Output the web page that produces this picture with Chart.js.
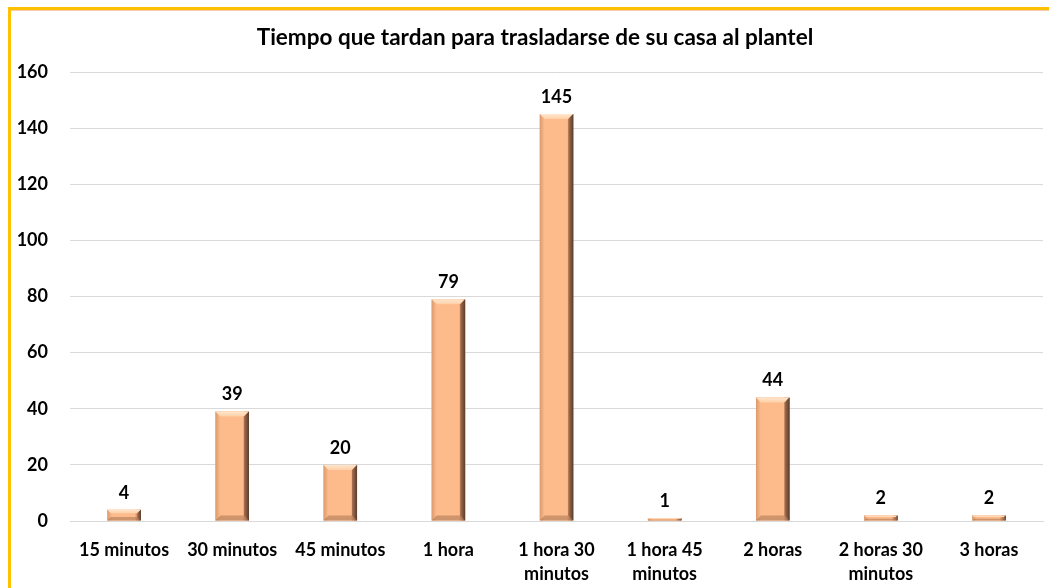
<!DOCTYPE html>
<html>
<head>
<meta charset="utf-8">
<script src="https://cdn.jsdelivr.net/npm/chart.js@4/dist/chart.umd.min.js"></script>
<style>
  html, body { margin: 0; padding: 0; background: #fff; overflow: hidden; }
  #wrap { position: relative; width: 1049px; height: 588px; }
  #frame {
    position: absolute; left: 8px; top: 7px; width: 1100px; height: 700px;
    border-top: 3px solid #FFC000; border-left: 3px solid #FFC000;
    box-shadow: inset 0 1px 0 #F8CBAD;
    pointer-events: none;
  }
  canvas { position: absolute; left: 0; top: 0; }
</style>
</head>
<body>
<div id="wrap">
  <canvas id="chart" width="1049" height="588"></canvas>
  <div id="frame"></div>
</div>
<script>
const TITLE = "Tiempo que tardan para trasladarse de su casa al plantel";

const categories = [
  "15 minutos",
  "30 minutos",
  "45 minutos",
  "1 hora",
  ["1 hora 30", "minutos"],
  ["1 hora 45", "minutos"],
  "2 horas",
  ["2 horas 30", "minutos"],
  "3 horas",
];

const values = [4, 39, 20, 79, 145, 1, 44, 2, 2];

const yTicks = [0, 20, 40, 60, 80, 100, 120, 140, 160];

const FONT = "Lato, 'Open Sans', sans-serif";

// titulo centrado en todo el recuadro
const titlePlugin = {
  id: "titlePlugin",
  afterDraw(chart) {
    const ctx = chart.ctx;
    ctx.save();
    ctx.font = "bold 22.5px " + FONT;
    ctx.fillStyle = "#000";
    ctx.textAlign = "center";
    ctx.textBaseline = "middle";
    ctx.fillText(TITLE, 535, 38);
    ctx.restore();
  },
};

// relieve de las barras (efecto bisel)
const bevelPlugin = {
  id: "bevelPlugin",
  afterDatasetsDraw(chart) {
    const ctx = chart.ctx;
    const meta = chart.getDatasetMeta(0);
    meta.data.forEach((bar) => {
      const l = bar.x - bar.width / 2;
      const r = bar.x + bar.width / 2;
      const t = Math.min(bar.y, bar.base);
      const b = Math.max(bar.y, bar.base);
      const h = b - t;
      const bv = Math.min(5, h / 3);

      ctx.save();
      // cara principal
      const g = ctx.createLinearGradient(l, 0, r, 0);
      g.addColorStop(0, "#D99A6E");
      g.addColorStop(0.14, "#FDBA8A");
      g.addColorStop(0.82, "#FDBA8A");
      g.addColorStop(0.9, "#C48660");
      g.addColorStop(1, "#6A4832");
      ctx.fillStyle = g;
      ctx.fillRect(l, t, r - l, h);

      // bisel superior
      ctx.beginPath();
      ctx.moveTo(l, t);
      ctx.lineTo(r, t);
      ctx.lineTo(r - bv, t + bv);
      ctx.lineTo(l + bv, t + bv);
      ctx.closePath();
      const gt = ctx.createLinearGradient(0, t, 0, t + bv);
      gt.addColorStop(0, "#FFE6CC");
      gt.addColorStop(1, "#FFD0A8");
      ctx.fillStyle = gt;
      ctx.fill();

      // bisel inferior
      ctx.beginPath();
      ctx.moveTo(l, b);
      ctx.lineTo(r, b);
      ctx.lineTo(r - bv, b - bv);
      ctx.lineTo(l + bv, b - bv);
      ctx.closePath();
      ctx.fillStyle = "rgba(160, 110, 78, 0.5)";
      ctx.fill();

      // bisel derecho
      ctx.beginPath();
      ctx.moveTo(r, t);
      ctx.lineTo(r, b);
      ctx.lineTo(r - bv, b - bv);
      ctx.lineTo(r - bv, t + bv);
      ctx.closePath();
      const gr = ctx.createLinearGradient(r - bv, 0, r, 0);
      gr.addColorStop(0, "#A87252");
      gr.addColorStop(1, "#5A3C2A");
      ctx.fillStyle = gr;
      ctx.fill();
      ctx.restore();
    });
  },
};

// etiquetas de valores encima de las barras
const valueLabelPlugin = {
  id: "valueLabelPlugin",
  afterDatasetsDraw(chart) {
    const ctx = chart.ctx;
    const meta = chart.getDatasetMeta(0);
    ctx.save();
    ctx.font = "bold 18px " + FONT;
    ctx.fillStyle = "#000";
    ctx.textAlign = "center";
    ctx.textBaseline = "bottom";
    meta.data.forEach((bar, i) => {
      ctx.fillText(String(values[i]), bar.x, bar.y - 8);
    });
    ctx.restore();
  },
};

const ctx = document.getElementById("chart").getContext("2d");

new Chart(ctx, {
  type: "bar",
  data: {
    labels: categories,
    datasets: [
      {
        data: values,
        backgroundColor: "#FDBA8A",
        borderWidth: 0,
        categoryPercentage: 1,
        barPercentage: 0.31,
      },
    ],
  },
  plugins: [bevelPlugin, valueLabelPlugin, titlePlugin],
  options: {
    responsive: false,
    animation: false,
    layout: { padding: { left: 0, right: 6, top: 72, bottom: 0 } },
    scales: {
      y: {
        min: 0,
        max: 160,
        afterBuildTicks: (scale) => {
          scale.ticks = yTicks.map((v) => ({ value: v }));
        },
        afterFit: (scale) => {
          scale.width = 70;
        },
        border: { display: false },
        grid: { color: "#D9D9D9", drawTicks: false },
        ticks: {
          color: "#000",
          padding: 22,
          font: { family: FONT, size: 18, weight: "bold" },
        },
      },
      x: {
        afterFit: (scale) => {
          scale.height = 67;
        },
        border: { display: true, color: "#D9D9D9" },
        grid: { display: false },
        ticks: {
          color: "#000",
          padding: 9,
          maxRotation: 0,
          autoSkip: false,
          font: { family: FONT, size: 18, weight: "bold", lineHeight: 1.33 },
        },
      },
    },
    plugins: {
      legend: { display: false },
      tooltip: { enabled: false },
      title: { display: false },
    },
  },
});
</script>
</body>
</html>
